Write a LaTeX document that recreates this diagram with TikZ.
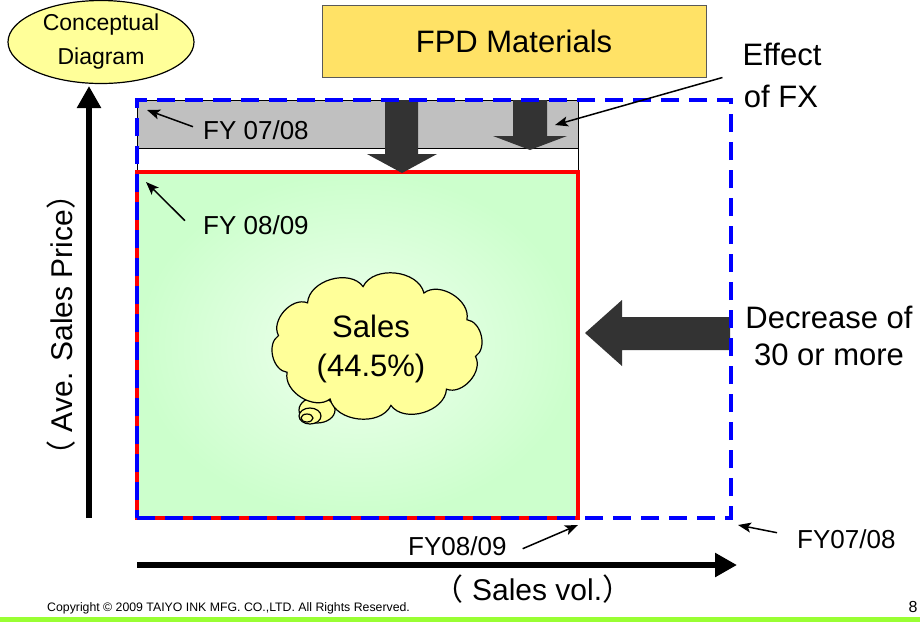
\documentclass[tikz,border=0pt]{standalone}
\usepackage{fontspec}
\setmainfont{Liberation Sans}
\newfontfamily\cjkfont{Noto Sans CJK JP}
\usetikzlibrary{arrows.meta,shapes.geometric,calc}
\definecolor{cyellow}{HTML}{FFFF99}
\definecolor{fpdfill}{HTML}{FFE266}
\definecolor{darkarrow}{HTML}{333333}
\definecolor{bandgray}{HTML}{C0C0C0}
\definecolor{lgreen}{HTML}{CCFFCC}
\definecolor{barg}{HTML}{99FF33}
\begin{document}
\begin{tikzpicture}[x=1pt,y=-1pt,
  txtbig/.style={font=\fontsize{31}{36}\selectfont, inner sep=0pt},
  txtfy/.style={font=\fontsize{26}{30}\selectfont, inner sep=0pt},
  txtaxis/.style={font=\fontsize{30}{34}\selectfont, inner sep=0pt},
  pointer/.style={line width=1.5pt, -{Stealth[length=13pt,width=10pt,inset=3pt]}},
  axisarrow/.style={line width=6pt, -{Triangle[length=22pt,width=23pt]}},
  blockarrow/.style={fill=darkarrow, draw=none},
  boxnode/.style={rectangle, inner sep=0pt, outer sep=0pt},
  bubble/.style={line width=1.2pt, draw=black, fill=cyellow},
]
\useasboundingbox (0,0) rectangle (920,622);

% rectangles
\node[boxnode, draw=black, line width=0.8pt, minimum width=441pt, minimum height=418pt] (outline) at (357.5,309) {};
\node[boxnode, draw=black, line width=0.8pt, fill=bandgray, minimum width=441pt, minimum height=48pt] (band) at (357.5,124) {};
\node[boxnode, draw=red, line width=3.5pt, inner color=lgreen!30!white, outer color=lgreen, minimum width=441pt, minimum height=346pt] (fy0809) at (357.5,345) {};

% block arrows
\fill[blockarrow] (385,100) -- (418,100) -- (418,154) -- (437,154) -- (402,173) -- (367,154) -- (385,154) -- cycle;
\fill[blockarrow] (513,100) -- (547,100) -- (547,136) -- (567,136) -- (530,150) -- (493,136) -- (513,136) -- cycle;
\fill[blockarrow] (730,317) -- (622,317) -- (622,300) -- (585,333) -- (622,366) -- (622,350) -- (730,350) -- cycle;

\node[boxnode, draw=blue, line width=3.5pt, dash pattern=on 18pt off 10pt, minimum width=594pt, minimum height=418pt] (fy0708) at (434,309) {};

% top items
\node[ellipse, draw=black, line width=1.2pt, fill=cyellow, minimum width=186pt, minimum height=83pt, inner sep=0pt, align=center, font=\fontsize{23}{34}\selectfont] (concept) at (101,42) {Conceptual\\Diagram};
\node[boxnode, draw=gray!70!black, line width=0.8pt, fill=fpdfill, minimum width=384pt, minimum height=72pt, font=\fontsize{31}{36}\selectfont] (fpd) at (514,41) {FPD Materials};

% cloud
\draw[bubble] (317,410) ellipse [x radius=18pt, y radius=13pt];
\draw[bubble] (310,416) ellipse [x radius=11pt, y radius=8pt];
\draw[bubble] (307,418) ellipse [x radius=6pt, y radius=4pt];
\draw[bubble, shift={(377,346)}] (10:100 and 60) foreach \a in {46,82,...,370} { to[bend left=70] (\a:100 and 60) } -- cycle;
\node[inner sep=0pt, align=center, font=\fontsize{31}{39}\selectfont] (salestxt) at (371,349) {Sales\\(44.5\%)};

% labels
\node[txtfy, anchor=base west] (lbl0708) at (203,139) {FY 07/08};
\node[txtfy, anchor=base west] (lbl0809) at (203,234) {FY 08/09};
\node[txtfy, anchor=base west] (lbl0809b) at (408,555) {FY08/09};
\node[txtfy, anchor=base west] (lbl0708b) at (797,548) {FY07/08};
\node[txtbig, anchor=base] (eff1) at (782,65) {Effect};
\node[txtbig, anchor=base] (eff2) at (781,107) {of FX};
\node[txtbig, anchor=base] (dec1) at (829,328) {Decrease of};
\node[txtbig, anchor=base] (dec2) at (829,365) {30 or more};

% axes
\coordinate (vbot) at (89,518);
\coordinate (vtop) at (89,86);
\coordinate (hleft) at (137,565);
\coordinate (hright) at (737,565);
\draw[axisarrow] (vbot) -- (vtop);
\draw[axisarrow] (hleft) -- (hright);
\node[txtaxis, anchor=base] (xlabel) at (533,600) {{\cjkfont （} Sales vol.{\cjkfont ）}};
\node[txtaxis, anchor=base, rotate=90] (ylabel) at (72,325) {{\cjkfont （} Ave. Sales Price{\cjkfont ）}};

% pointers
\coordinate (tipA) at ($(fy0708.north west)+(10,10)$);
\coordinate (tipB) at ($(fy0809.north west)+(9,10)$);
\coordinate (tipC) at ($(fy0809.south east)+(0,7)$);
\coordinate (tipD) at ($(fy0708.south east)+(7,7)$);
\coordinate (tipE) at (555,125);
\draw[pointer] ([shift={(-10,-3)}]lbl0708.west) -- (tipA);
\draw[pointer] ([shift={(-18,-4)}]lbl0809.west) -- (tipB);
\draw[pointer] ([shift={(16,3)}]lbl0809b.east) -- (tipC);
\draw[pointer] ([shift={(-20,-6)}]lbl0708b.west) -- (tipD);
\draw[pointer] ([shift={(-20,12)}]eff1.south west) -- (tipE);

% footer
\node[font=\fontsize{12.3}{14}\selectfont, anchor=base west, inner sep=0pt] (copy) at (47,611) {Copyright © 2009 TAIYO INK MFG. CO.,LTD. All Rights Reserved.};
\node[font=\fontsize{16}{18}\selectfont, anchor=base, inner sep=0pt] (page) at (913,612) {8};
\fill[barg] (0,617) rectangle (920,622);
\end{tikzpicture}
\end{document}
